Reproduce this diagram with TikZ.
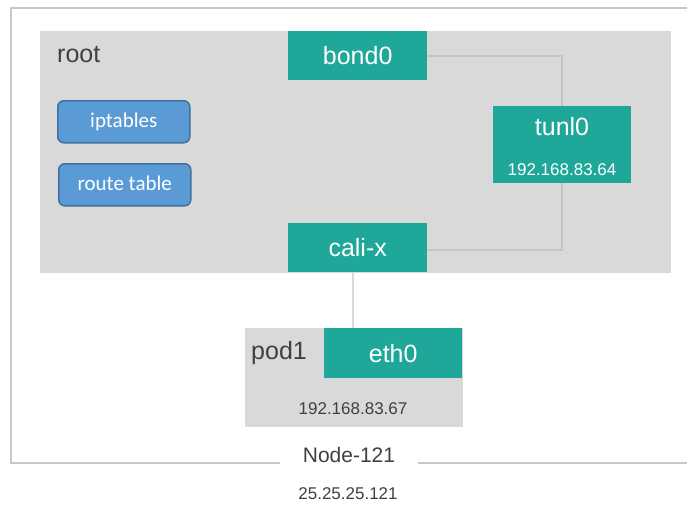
\documentclass[tikz,border=0pt]{standalone}
\usepackage{fontspec}
\setmainfont{Liberation Sans}
\newfontfamily\calfont{Carlito}
\definecolor{teal1}{RGB}{31,167,153}
\definecolor{panel}{RGB}{217,217,217}
\definecolor{wire}{RGB}{196,196,196}
\definecolor{frame}{RGB}{200,200,200}
\definecolor{bluefill}{RGB}{91,155,213}
\definecolor{blueedge}{RGB}{65,113,156}
\definecolor{ink}{RGB}{64,64,64}
\begin{document}
\begin{tikzpicture}[x=1pt,y=-1pt,
  big/.style={font=\fontsize{25}{27}\selectfont},
  small/.style={font=\fontsize{17}{19}\selectfont},
  iface/.style={fill=teal1, draw=none, text=white, big,
    minimum width=139pt, minimum height=49pt, inner sep=0pt, anchor=north west},
  tool/.style={fill=bluefill, draw=blueedge, line width=1.5pt, rounded corners=6pt,
    text=white, font=\calfont\fontsize{21}{23}\selectfont,
    text height=14pt, text depth=3pt,
    minimum width=132pt, minimum height=42pt, inner sep=0pt, anchor=north west},
  wireline/.style={draw=wire, line width=1.8pt},
  lbl/.style={text=ink, inner sep=0pt}]
\useasboundingbox (0,0) rectangle (687,507);

% outer host frame, open at the bottom for its label
\node[lbl, font=\fontsize{21}{23}\selectfont, minimum width=138pt, minimum height=20pt] (host) at (349,455) {Node-121};
\coordinate (fl) at (host.west |- 0,463);
\coordinate (fr) at (host.east |- 0,463);
\draw[draw=frame, line width=1.8pt] (fl) -- (11,463) -- (11,8) -- (690,8);
\draw[draw=frame, line width=1.8pt] (fr) -- (690,463);
\node[lbl, small] (hostip) at (348,494) {25.25.25.121};

% root namespace
\fill[panel] (40,31) rectangle (671,273);
\node[lbl, big, anchor=west] (rootlbl) at (57,55) {root};

\node[tool] (ipt) at (57,100) {iptables};
\node[tool] (rt) at (58,163) {route table};

\node[iface] (bond) at (288,31) {bond0};
\node[iface] (cali) at (288,223) {cali-x};
\node[fill=teal1, minimum width=138pt, minimum height=77pt, inner sep=0pt, anchor=north west] (tunl) at (493,106) {};
\node[text=white, big, inner sep=0pt] (tunlname) at (562,127) {tunl0};
\node[text=white, small, inner sep=0pt] (tunlip) at (562,170) {192.168.83.64};

% pod namespace
\node[fill=panel, minimum width=218pt, minimum height=99pt, inner sep=0pt, anchor=north west] (pod) at (245,328) {};
\node[iface, minimum width=138pt, minimum height=50pt] (eth) at (324,328) {eth0};
\node[lbl, big, anchor=west] (podlbl) at (251,353) {pod1};
\node[lbl, small] (podip) at (353,409) {192.168.83.67};

% links
\draw[wireline] (bond.east) -| (tunl.north);
\draw[wireline] (tunl.south) |- ([yshift=-2pt]cali.east);
\draw[draw=panel, line width=1.8pt] (cali.south -| 353,0) -- (pod.north -| 353,0);
\end{tikzpicture}
\end{document}
